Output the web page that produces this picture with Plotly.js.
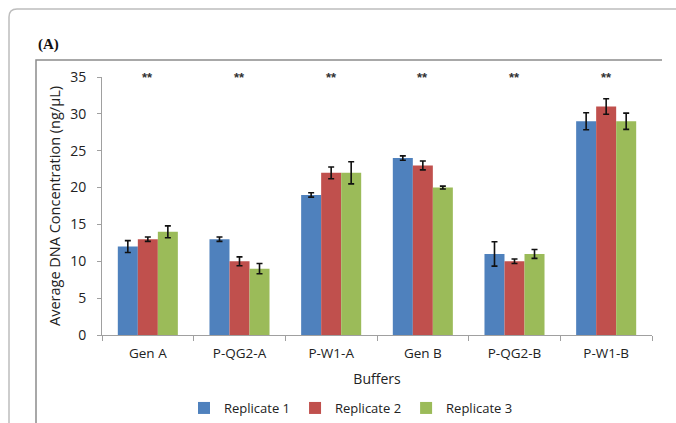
<!DOCTYPE html>
<html>
<head>
<meta charset="utf-8">
<script src="https://cdn.plot.ly/plotly-3.0.1.min.js"></script>
<style>html,body{margin:0;padding:0;background:#fff;}#chart{width:676px;height:423px;}</style>
</head>
<body>
<div id="chart"></div>
<script>
const categories = ["Gen A", "P-QG2-A", "P-W1-A", "Gen B", "P-QG2-B", "P-W1-B"];
const rep1 = [12, 13, 19, 24, 11, 29];
const rep2 = [13, 10, 22, 23, 10, 31];
const rep3 = [14, 9, 22, 20, 11, 29];
const err1 = [0.8, 0.3, 0.3, 0.3, 1.65, 1.15];
const err2 = [0.3, 0.6, 0.8, 0.6, 0.3, 1.05];
const err3 = [0.8, 0.7, 1.5, 0.2, 0.6, 1.1];
const seriesNames = ["Replicate 1", "Replicate 2", "Replicate 3"];
const colors = ["#4F81BD", "#C0504D", "#9BBB59"];
const signif = ["**", "**", "**", "**", "**", "**"];
const yTicks = [0, 5, 10, 15, 20, 25, 30, 35];

const W = 676, H = 423;
const ml = 102, mr = 24, mt = 77, mb = 88;
const pw = W - ml - mr, ph = H - mt - mb;
const px = v => (v - ml) / pw;
const py = v => (H - mb - v) / ph;

const vals = [rep1, rep2, rep3];
const errs = [err1, err2, err3];
const traces = vals.map((v, i) => ({
  type: "bar",
  name: seriesNames[i],
  x: categories,
  y: v,
  marker: {color: colors[i]},
  error_y: {type: "data", array: errs[i], visible: true, color: "#111", thickness: 1.6, width: 3}
}));

const annotations = categories.map((c, i) => ({
  x: c, y: 35, xref: "x", yref: "y", text: "<b>" + signif[i] + "</b>", showarrow: false,
  font: {family: "Liberation Sans", size: 13, color: "#333333"}, yanchor: "middle"
}));
annotations.push({
  xref: "paper", yref: "paper", x: px(36), y: py(44), xanchor: "left", yanchor: "middle",
  text: "<b>(A)</b>", showarrow: false,
  font: {family: "Liberation Serif", size: 15, color: "#111"}
});

const r = 8;
const shapes = [
  {type: "path", xref: "paper", yref: "paper", layer: "below",
   path: `M ${px(9)} ${py(430)} L ${px(9)} ${py(9 + r)} Q ${px(9)} ${py(9)} ${px(9 + r)} ${py(9)} L ${px(690)} ${py(9)}`,
   line: {color: "#bdbdbd", width: 1.5}},
  {type: "path", xref: "paper", yref: "paper", layer: "below",
   path: `M ${px(36)} ${py(430)} L ${px(36)} ${py(60)} L ${px(662)} ${py(60)}`,
   line: {color: "#8c8c8c", width: 1.5}}
];

const layout = {
  width: W, height: H,
  margin: {l: ml, r: mr, t: mt, b: mb, autoexpand: false},
  paper_bgcolor: "#fff", plot_bgcolor: "#fff",
  barmode: "group", bargap: 0.345, bargroupgap: 0,
  font: {family: "Open Sans", color: "#222"},
  xaxis: {
    type: "category", showgrid: false, zeroline: false, automargin: false,
    showline: true, linecolor: "#a0a0a0", linewidth: 1,
    ticks: "outside", tickson: "boundaries", ticklen: 5, tickcolor: "#a0a0a0",
    ticklabelstandoff: 6,
    tickfont: {family: "Open Sans", size: 13.5, color: "#222"},
    title: {text: "Buffers", font: {family: "Open Sans", size: 14, color: "#222"}, standoff: 12}
  },
  yaxis: {
    range: [0, 35], tickvals: yTicks, ticktext: yTicks.map(String),
    showgrid: false, zeroline: false, automargin: false,
    showline: true, linecolor: "#a0a0a0", linewidth: 1,
    ticks: "outside", ticklen: 4, tickcolor: "#a0a0a0",
    ticklabelstandoff: 8,
    tickfont: {family: "Open Sans", size: 14, color: "#222"},
    title: {text: "Average DNA Concentration (ng/μL)", font: {family: "Open Sans", size: 14.5, color: "#222"}, standoff: 6}
  },
  showlegend: true,
  legend: {orientation: "h", x: px(351), xanchor: "center", y: py(408), yanchor: "middle",
    itemwidth: 30,
    font: {family: "Open Sans", size: 13, color: "#222"}, traceorder: "normal"},
  annotations: annotations,
  shapes: shapes
};

Plotly.newPlot("chart", traces, layout, {displayModeBar: false, staticPlot: true});
</script>
</body>
</html>
